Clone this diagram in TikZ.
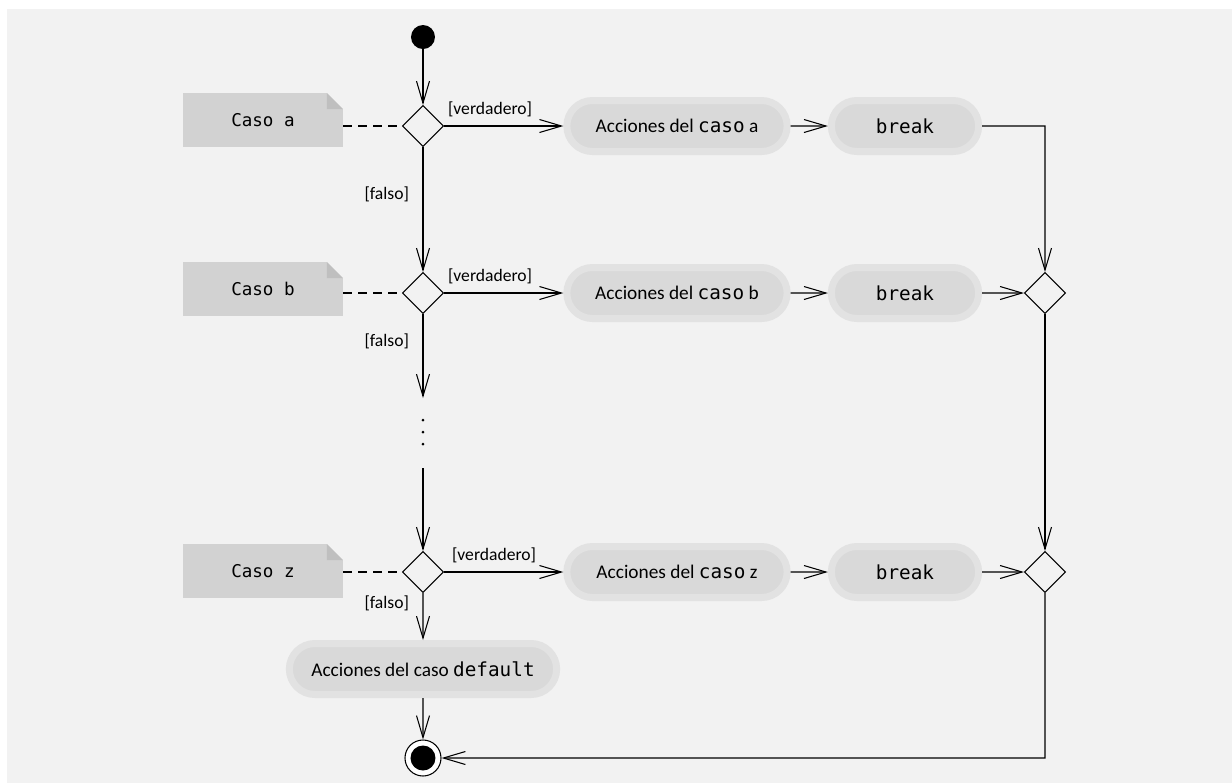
\documentclass[tikz,border=0pt]{standalone}
\usepackage{fontspec}
\setmainfont{Carlito}
\setmonofont{DejaVu Sans Mono}
\usetikzlibrary{shapes.geometric, shapes.misc, arrows.meta, positioning}
\tikzstyle{arrow} = [line width=0.6pt,->,>={Straight Barb[length=0.44cm,width=0.26cm]}]
\tikzstyle{link} = [line width=0.6pt, dash pattern=on 0.18cm off 0.12cm]
\tikzstyle{startdot} = [circle, fill=black, minimum size=0.48cm, inner sep=0pt]
\tikzstyle{enddot} = [circle, draw=black, line width=0.6pt, fill=white, minimum size=0.72cm, inner sep=0pt, path picture={\fill[black] (path picture bounding box.center) circle (0.25cm);}]
\tikzstyle{decision} = [diamond, draw=black, line width=0.6pt, minimum width=0.82cm, minimum height=0.82cm, inner sep=0pt]
\tikzstyle{action} = [rounded rectangle, minimum width=4.64cm, minimum height=1.02cm, draw=gray!23, line width=0.14cm, fill=gray!30, font=\fontsize{11}{13}\selectfont]
\tikzstyle{note} = [rectangle, minimum width=3.2cm, minimum height=1.08cm, fill=gray!35, font=\ttfamily\fontsize{10}{12}\selectfont, path picture={
  \fill[gray!10] ([xshift=-0.32cm]path picture bounding box.north east) -- (path picture bounding box.north east) -- ([yshift=-0.32cm]path picture bounding box.north east) -- cycle;
  \fill[gray!50] ([xshift=-0.32cm]path picture bounding box.north east) -- ([xshift=-0.32cm,yshift=-0.32cm]path picture bounding box.north east) -- ([yshift=-0.32cm]path picture bounding box.north east) -- cycle;}]
\tikzstyle{guard} = [font=\fontsize{10}{12}\selectfont, inner sep=2pt]

\begin{document}
\begin{tikzpicture}[node distance=1.78cm]

\useasboundingbox (-8.46,0.74) rectangle (16.18,-14.92);
\fill[gray!10] (-8.32,0.56) rectangle (16.18,-14.92);

\node (start) [startdot] {};

\node (deca) [decision, below of=start] {};
\node (decb) [decision, below of=deca, yshift=-1.56cm] {};
\node (decz) [decision, below of=decb, yshift=-3.8cm] {};
\node (default) [action, minimum width=5.58cm, below of=decz, yshift=-0.16cm] {Acciones del caso \texttt{default}};
\node (end) [enddot, below of=default] {};

\node (notea) [note, left of=deca, xshift=-1.42cm, yshift=0.12cm] {Caso a};
\node (noteb) [note, left of=decb, xshift=-1.42cm, yshift=0.08cm] {Caso b};
\node (notez) [note, left of=decz, xshift=-1.42cm, yshift=0.02cm] {Caso z};

\node (acta) [action, right of=deca, xshift=3.3cm] {Acciones del \texttt{caso} a};
\node (actb) [action, right of=decb, xshift=3.3cm] {Acciones del \texttt{caso} b};
\node (actz) [action, right of=decz, xshift=3.3cm] {Acciones del \texttt{caso} z};

\node (breaka) [action, minimum width=3.18cm, right of=acta, xshift=2.78cm] {\texttt{break}};
\node (breakb) [action, minimum width=3.18cm, right of=actb, xshift=2.78cm] {\texttt{break}};
\node (breakz) [action, minimum width=3.18cm, right of=actz, xshift=2.78cm] {\texttt{break}};

\node (mergeb) [decision, right of=breakb, xshift=1.02cm] {};
\node (mergez) [decision, right of=breakz, xshift=1.02cm] {};

\node[coordinate] (r_breaka) [right of=breaka, xshift=1.02cm] {};
\node[coordinate] (gap1) [below of=decb, yshift=-0.32cm] {};
\node[coordinate] (gap2) [below of=decb, yshift=-1.72cm] {};
\node[coordinate] (dots) [below of=decb, yshift=-1.0cm] {};
\node[coordinate] (r_end) [right of=end, xshift=10.66cm] {};

\draw [arrow] (start) -- (deca);
\draw [arrow] (deca) -- node[guard, left, pos=0.38, xshift=-0.2cm] {[falso]} (decb);
\draw [arrow] (decb) -- node[guard, left, pos=0.32, xshift=-0.2cm] {[falso]} (gap1);
\foreach \k in {-1,0,1}
  \fill (dots) ++(0,\k*0.24) circle (0.03cm);
\draw [arrow] (gap2) -- (decz);
\draw [arrow] (decz) -- node[guard, left, pos=0.22, xshift=-0.2cm] {[falso]} (default);
\draw [arrow] (default) -- (end);

\draw [arrow] (deca) -- node[guard, anchor=south west, pos=0, yshift=0.1cm] {[verdadero]} (acta);
\draw [arrow] (decb) -- node[guard, anchor=south west, pos=0, yshift=0.1cm] {[verdadero]} (actb);
\draw [arrow] (decz) -- node[guard, anchor=south west, pos=0, xshift=0.08cm, yshift=0.1cm] {[verdadero]} (actz);

\draw [arrow] (acta) -- (breaka);
\draw [arrow] (actb) -- (breakb);
\draw [arrow] (actz) -- (breakz);

\draw [link] (notea.east |- deca) -- (deca);
\draw [link] (noteb.east |- decb) -- (decb);
\draw [link] (notez.east |- decz) -- (decz);

\draw [arrow] (breaka) -- (r_breaka) -- (mergeb);
\draw [arrow] (breakb) -- (mergeb);
\draw [arrow] (breakz) -- (mergez);
\draw [arrow] (mergeb) -- (mergez);
\draw [arrow] (mergez) -- (r_end) -- (end);

\end{tikzpicture}
\end{document}
